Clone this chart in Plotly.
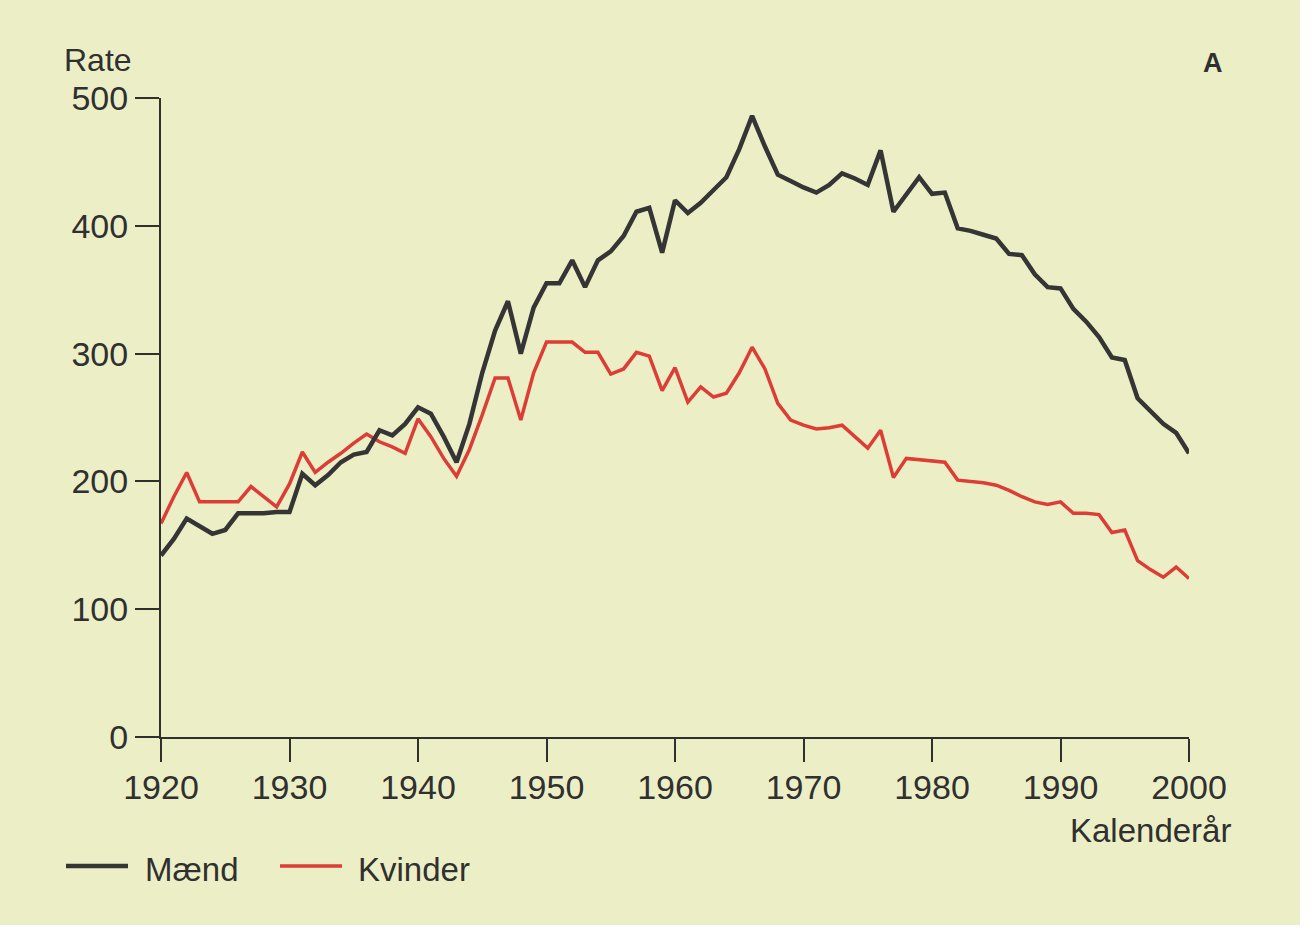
import plotly.graph_objects as go

years = list(range(1920, 2001))

maend = [142, 155, 171, 165, 159, 162, 175, 175, 175, 176,
         176, 206, 197, 205, 215, 221, 223, 240, 236, 245,
         258, 253, 235, 215, 245, 285, 318, 341, 300, 336,
         355, 355, 373, 352, 373, 380, 392, 411, 414, 379,
         420, 410, 418, 428, 438, 460, 486, 462, 440, 435,
         430, 426, 432, 441, 437, 432, 459, 411, 425, 438,
         425, 426, 398, 396, 393, 390, 378, 377, 362, 352,
         351, 335, 325, 313, 297, 295, 265, 255, 245, 238,
         222]

kvinder = [167, 188, 207, 184, 184, 184, 184, 196, 188, 180,
           198, 223, 207, 215, 222, 230, 237, 231, 227, 222,
           249, 235, 218, 204, 225, 252, 281, 281, 248, 285,
           309, 309, 309, 301, 301, 284, 288, 301, 298, 271,
           289, 262, 274, 266, 269, 285, 305, 288, 261, 248,
           244, 241, 242, 244, 235, 226, 240, 203, 218, 217,
           216, 215, 201, 200, 199, 197, 193, 188, 184, 182,
           184, 175, 175, 174, 160, 162, 138, 131, 125, 133,
           124]

x_ticks = [1920, 1930, 1940, 1950, 1960, 1970, 1980, 1990, 2000]
y_ticks = [0, 100, 200, 300, 400, 500]

BG = "#ecefc6"
INK = "#303030"
BLACK_LINE = "#353535"
RED_LINE = "#dc3d36"
FONT = "Liberation Sans"

fig = go.Figure()
fig.add_trace(go.Scatter(x=years, y=kvinder, mode="lines", name="Kvinder",
                         line=dict(color=RED_LINE, width=3.5), showlegend=False))
fig.add_trace(go.Scatter(x=years, y=maend, mode="lines", name="Mænd",
                         line=dict(color=BLACK_LINE, width=4.5), showlegend=False))

W, H = 1315, 931
L, R, T, B = 161, 1315 - 1189, 98, 931 - 737
pw, ph = W - L - R, H - T - B

def px_x(p):
    return (p - L) / pw

def px_y(p):
    return (H - B - p) / ph

fig.update_layout(
    width=W, height=H,
    margin=dict(l=L, r=R, t=T, b=B, pad=0),
    paper_bgcolor="white",
    plot_bgcolor="rgba(0,0,0,0)",
    font=dict(family=FONT, color=INK, size=33),
    xaxis=dict(range=[1920, 2000], tickvals=x_ticks, ticktext=[str(v) for v in x_ticks],
               showgrid=False, zeroline=False, showline=True, linecolor=INK, linewidth=2,
               ticks="outside", ticklen=23, tickwidth=2, tickcolor=INK,
               ticklabelstandoff=-4,
               tickfont=dict(size=34, family=FONT, color=INK)),
    yaxis=dict(range=[0, 500], tickvals=y_ticks, ticktext=[str(v) for v in y_ticks],
               showgrid=False, zeroline=False, showline=True, linecolor=INK, linewidth=2,
               ticks="outside", ticklen=24, tickwidth=2, tickcolor=INK,
               tickfont=dict(size=34, family=FONT, color=INK)),
    shapes=[
        dict(type="rect", xref="paper", yref="paper", layer="below",
             x0=px_x(0), x1=px_x(1300), y0=px_y(925), y1=px_y(0),
             fillcolor=BG, line=dict(width=0)),
        dict(type="line", xref="paper", yref="paper",
             x0=px_x(137), x1=0, y0=0, y1=0, line=dict(color=INK, width=2)),
        dict(type="line", xref="paper", yref="paper",
             x0=px_x(66), x1=px_x(128), y0=px_y(866), y1=px_y(866),
             line=dict(color=BLACK_LINE, width=4.5)),
        dict(type="line", xref="paper", yref="paper",
             x0=px_x(280), x1=px_x(342), y0=px_y(866), y1=px_y(866),
             line=dict(color=RED_LINE, width=3.5)),
    ],
    annotations=[
        dict(text="Rate", xref="paper", yref="paper", x=px_x(62), y=px_y(60),
             xanchor="left", yanchor="middle", showarrow=False, font=dict(size=32)),
        dict(text="<b>A</b>", xref="paper", yref="paper", x=px_x(1213), y=px_y(63),
             xanchor="center", yanchor="middle", showarrow=False, font=dict(size=27)),
        dict(text="Kalenderår", xref="paper", yref="paper", x=px_x(1233), y=px_y(831),
             xanchor="right", yanchor="middle", showarrow=False, font=dict(size=33)),
        dict(text="Mænd", xref="paper", yref="paper", x=px_x(143), y=px_y(869),
             xanchor="left", yanchor="middle", showarrow=False, font=dict(size=33)),
        dict(text="Kvinder", xref="paper", yref="paper", x=px_x(356), y=px_y(869),
             xanchor="left", yanchor="middle", showarrow=False, font=dict(size=33)),
    ],
)

fig.write_html("out.html", config={"displayModeBar": False},
               post_script="document.body.style.margin='0';document.body.style.overflow='hidden';")
